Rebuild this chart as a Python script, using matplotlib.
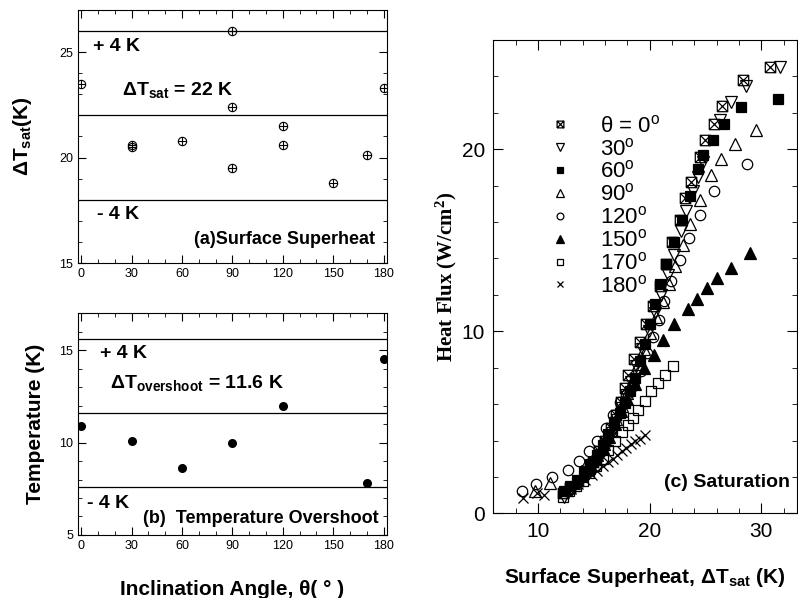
import matplotlib
matplotlib.use("Agg")
import matplotlib.pyplot as plt
from matplotlib.path import Path
from matplotlib.ticker import MultipleLocator

plt.rcParams['font.family'] = ['Liberation Sans', 'DejaVu Sans']
plt.rcParams['mathtext.default'] = 'regular'

# ---------------- data ----------------
# (a) surface superheat at onset vs inclination angle
a_angle = [0, 30, 30, 60, 90, 90, 90, 120, 120, 150, 170, 180]
a_dtsat = [23.5, 20.6, 20.5, 20.8, 26.0, 22.4, 19.5, 21.5, 20.6, 18.8, 20.1, 23.3]
a_mean, a_band = 22.0, 4.0

# (b) temperature overshoot vs inclination angle
b_angle = [0, 30, 60, 90, 120, 170, 180]
b_over = [10.9, 10.1, 8.6, 10.0, 12.0, 7.8, 14.5]
b_mean, b_band = 11.6, 4.0

# (c) boiling curves, saturation
c_labels = [r"$\theta$ = 0$^{o}$", "30$^{o}$", "60$^{o}$", "90$^{o}$",
            "120$^{o}$", "150$^{o}$", "170$^{o}$", "180$^{o}$"]
x0 = [12.2, 12.9, 13.6, 14.3, 14.9, 15.5, 16.0, 16.5, 17.0, 17.4, 17.8, 18.1, 18.6, 19.1,
      19.7, 20.3, 20.9, 21.5, 22.0, 22.7, 23.2, 23.7, 24.5, 25.0, 25.8, 26.5, 28.4, 30.8]
y0 = [1.1, 1.4, 1.8, 2.3, 2.8, 3.4, 4.0, 4.7, 5.4, 6.1, 6.9, 7.6, 8.5, 9.4,
      10.4, 11.4, 12.5, 13.7, 14.9, 16.1, 17.3, 18.2, 19.6, 20.5, 21.4, 22.4, 23.8, 24.5]
x30 = [12.3, 13.0, 13.7, 14.4, 15.0, 15.6, 16.1, 16.6, 17.1, 17.5, 17.9, 18.3, 18.8, 19.3,
       19.9, 20.5, 21.0, 21.6, 22.2, 22.8, 23.3, 23.9, 24.3, 24.8, 26.3, 27.3, 28.6, 31.7]
y30 = [0.9, 1.3, 1.7, 2.2, 2.7, 3.2, 3.8, 4.4, 5.1, 5.8, 6.5, 7.2, 8.1, 9.0,
       10.0, 11.0, 12.0, 13.1, 14.2, 15.5, 16.6, 17.7, 18.5, 19.3, 21.6, 22.6, 23.5, 24.5]
x60 = [12.3, 12.9, 13.5, 14.1, 14.7, 15.3, 15.8, 16.3, 16.8, 17.3, 17.8, 18.2, 18.65, 19.1,
       19.55, 20.0, 20.45, 20.9, 21.5, 22.2, 22.9, 23.6, 24.3, 24.8, 25.7, 26.7, 28.2, 31.5]
y60 = [1.2, 1.5, 1.85, 2.25, 2.7, 3.2, 3.75, 4.35, 5.0, 5.5, 6.05, 6.7, 7.45, 8.35,
       9.3, 10.4, 11.5, 12.6, 13.7, 14.9, 16.1, 17.45, 18.9, 19.7, 20.5, 21.4, 22.3, 22.75]
x90 = [9.7, 11.05, 12.6, 13.3, 14.0, 14.7, 15.3, 15.9, 16.5, 17.0, 17.5, 18.0, 18.5, 19.0,
       19.5, 20.0, 20.6, 21.2, 21.7, 22.3, 23.0, 23.6, 24.5, 25.5, 26.4, 27.6, 29.5]
y90 = [1.2, 1.65, 1.4, 1.8, 2.2, 2.7, 3.2, 3.8, 4.5, 5.2, 5.9, 6.6, 7.4, 8.2,
       9.0, 9.9, 10.8, 11.6, 12.6, 13.6, 14.75, 15.9, 17.2, 18.6, 19.45, 20.3, 21.05]
x120 = [8.6, 9.8, 11.25, 12.7, 13.7, 14.6, 15.3, 16.1, 16.7, 17.3, 17.9, 18.5, 19.2, 19.8,
        20.3, 20.8, 21.3, 21.9, 22.7, 23.5, 24.5, 25.8, 28.7]
y120 = [1.23, 1.6, 2.0, 2.4, 2.85, 3.45, 4.0, 4.7, 5.4, 6.1, 6.5, 7.0, 7.8, 8.8,
        9.7, 10.6, 11.65, 12.75, 13.9, 15.1, 16.4, 17.7, 19.2]
x150 = [12.5, 13.2, 13.9, 14.6, 15.2, 15.8, 16.4, 16.9, 17.4, 18.0, 18.7, 19.5, 20.35, 21.2,
        22.2, 23.4, 24.25, 25.1, 26.0, 27.25, 29.0]
y150 = [1.3, 1.65, 2.05, 2.5, 3.0, 3.6, 4.2, 4.9, 5.6, 6.3, 7.1, 8.0, 8.7, 9.5,
        10.4, 11.25, 11.8, 12.35, 12.9, 13.5, 14.3]
x170 = [12.2, 12.8, 13.4, 14.0, 14.6, 15.2, 15.8, 16.3, 16.9, 17.5, 18.05, 18.5, 19.0,
        19.55, 20.15, 20.75, 21.35, 22.1]
y170 = [0.9, 1.2, 1.5, 1.8, 2.2, 2.6, 3.0, 3.5, 4.0, 4.45, 4.85, 5.25, 5.7,
        6.15, 6.7, 7.15, 7.6, 8.1]
x180 = [8.7, 9.9, 10.5, 12.3, 13.0, 13.6, 14.2, 14.8, 15.3, 15.8, 16.3, 16.7, 17.1, 17.5,
        17.9, 18.3, 18.7, 19.1, 19.55]
y180 = [0.85, 1.1, 1.0, 1.1, 1.35, 1.6, 1.85, 2.1, 2.35, 2.6, 2.8, 3.0, 3.2, 3.4,
        3.6, 3.8, 3.95, 4.1, 4.3]
c_x = [x0, x30, x60, x90, x120, x150, x170, x180]
c_y = [y0, y30, y60, y90, y120, y150, y170, y180]

# ---------------- markers ----------------
M, L = Path.MOVETO, Path.LINETO
sq_x = Path([(-1, -1), (1, -1), (1, 1), (-1, 1), (-1, -1), (-1, -1), (1, 1), (-1, 1), (1, -1)],
            [M, L, L, L, L, M, L, M, L])
circ = Path.unit_circle()
oplus = Path.make_compound_path(circ, Path([(-1, 0), (1, 0)], [M, L]),
                                Path([(0, -1), (0, 1)], [M, L]))

c_styles = [
    dict(marker=sq_x, mfc='none', ms=7.5),
    dict(marker='v', mfc='none', ms=8),
    dict(marker='s', mfc='black', ms=7.5),
    dict(marker='^', mfc='none', ms=8),
    dict(marker='o', mfc='none', ms=7.5),
    dict(marker='^', mfc='black', ms=8),
    dict(marker='s', mfc='none', ms=7.5),
    dict(marker='x', mfc='none', ms=7.5),
]

fig = plt.figure(figsize=(7.98, 5.98), dpi=100)

small_ticks = dict(direction='in', top=True, right=True, labelsize=9)

# ---------------- panel (a) ----------------
axa = fig.add_axes([0.0977, 0.5602, 0.3872, 0.4231])
axa.plot(a_angle, a_dtsat, linestyle='none', marker=oplus, ms=6, mfc='none',
         mec='black', mew=0.8)
for v in (a_mean + a_band, a_mean, a_mean - a_band):
    axa.axhline(v, color='black', lw=0.9)
axa.set_xlim(-2, 182)
axa.set_ylim(15, 27)
axa.xaxis.set_major_locator(MultipleLocator(30))
axa.xaxis.set_minor_locator(MultipleLocator(10))
axa.yaxis.set_major_locator(MultipleLocator(5))
axa.yaxis.set_minor_locator(MultipleLocator(1))
axa.tick_params(which='both', **small_ticks)
axa.tick_params(which='major', length=6)
axa.tick_params(which='minor', length=3)
axa.set_ylabel(r"$\Delta$T$_{sat}$(K)", fontsize=15, fontweight='bold', labelpad=18)
axa.text(0.049, 0.854, "+ 4 K", transform=axa.transAxes, fontsize=14,
         fontweight='bold', va='center')
axa.text(0.142, 0.684, r"$\Delta$T$_{sat}$ = 22 K", transform=axa.transAxes, fontsize=14,
         fontweight='bold', va='center')
axa.text(0.061, 0.19, "- 4 K", transform=axa.transAxes, fontsize=14,
         fontweight='bold', va='center')
axa.text(0.961, 0.091, "(a)Surface Superheat", transform=axa.transAxes, fontsize=13,
         fontweight='bold', va='center', ha='right')

# ---------------- panel (b) ----------------
axb = fig.add_axes([0.0977, 0.1054, 0.3872, 0.3707])
axb.plot(b_angle, b_over, linestyle='none', marker='o', ms=5.5, color='black')
for v in (b_mean + b_band, b_mean, b_mean - b_band):
    axb.axhline(v, color='black', lw=0.9)
axb.set_xlim(-2, 182)
axb.set_ylim(5, 17)
axb.xaxis.set_major_locator(MultipleLocator(30))
axb.xaxis.set_minor_locator(MultipleLocator(10))
axb.yaxis.set_major_locator(MultipleLocator(5))
axb.yaxis.set_minor_locator(MultipleLocator(1))
axb.tick_params(which='both', **small_ticks)
axb.tick_params(which='major', length=6)
axb.tick_params(which='minor', length=3)
axb.set_ylabel("Temperature (K)", fontsize=15, fontweight='bold', labelpad=10)
axb.set_xlabel("Inclination Angle, θ( ° )", fontsize=15, fontweight='bold', labelpad=20)
axb.text(0.071, 0.82, "+ 4 K", transform=axb.transAxes, fontsize=14,
         fontweight='bold', va='center')
axb.text(0.104, 0.686, r"$\Delta$T$_{overshoot}$ = 11.6 K", transform=axb.transAxes,
         fontsize=14, fontweight='bold', va='center')
axb.text(0.029, 0.143, "- 4 K", transform=axb.transAxes, fontsize=14,
         fontweight='bold', va='center')
axb.text(0.974, 0.075, "(b)  Temperature Overshoot", transform=axb.transAxes, fontsize=13,
         fontweight='bold', va='center', ha='right')

# ---------------- panel (c) ----------------
axc = fig.add_axes([0.6182, 0.1416, 0.3806, 0.7915])
handles = []
for xs, ys, st, lab in zip(c_x, c_y, c_styles, c_labels):
    h, = axc.plot(xs, ys, linestyle='none', color='black', mec='black', mew=0.9,
                  label=lab, **st)
    handles.append(h)
axc.set_xlim(6, 33.2)
axc.set_ylim(0, 26)
axc.xaxis.set_major_locator(MultipleLocator(10))
axc.xaxis.set_minor_locator(MultipleLocator(2))
axc.yaxis.set_major_locator(MultipleLocator(10))
axc.yaxis.set_minor_locator(MultipleLocator(2))
axc.tick_params(which='both', direction='in', top=True, right=True, labelsize=15)
axc.tick_params(which='major', length=7, pad=6)
axc.tick_params(which='minor', length=3.5)
axc.set_xlabel(r"Surface Superheat, $\Delta$T$_{sat}$ (K)", fontsize=15,
               fontweight='bold', labelpad=18)
axc.set_ylabel(r"Heat Flux (W/cm$^{2}$)", fontsize=15, fontweight='bold',
               family=['Liberation Serif', 'DejaVu Serif'], labelpad=2)
axc.text(0.977, 0.065, "(c) Saturation", transform=axc.transAxes, fontsize=14,
         fontweight='bold', va='center', ha='right')
leg = axc.legend(handles=handles, loc='upper left', bbox_to_anchor=(0.148, 0.865),
                 frameon=False, markerscale=0.65, handlelength=1.0, handletextpad=1.3,
                 labelspacing=0.04, borderpad=0,
                 prop=dict(family=['Liberation Sans', 'DejaVu Sans'], size=16))

fig.savefig("out.png", dpi=100)
